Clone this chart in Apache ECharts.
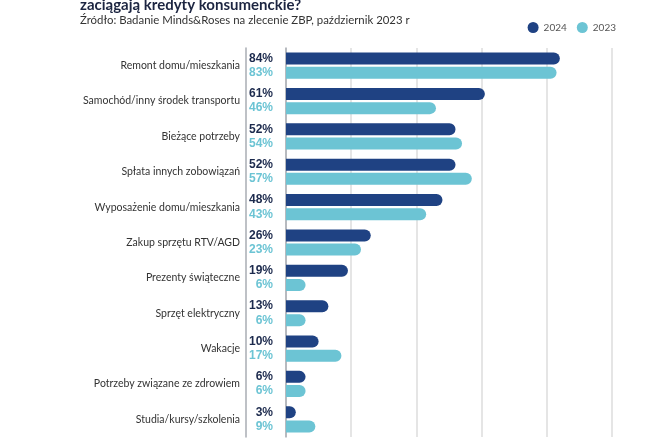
<!DOCTYPE html>
<html><head><meta charset="utf-8">
<script src="https://cdn.jsdelivr.net/npm/echarts@6/dist/echarts.min.js"></script>
<style>html,body{margin:0;padding:0;background:#fff}#c{width:664px;height:442px}</style>
</head><body><div id="c"></div>
<script>
const categories = ["Remont domu/mieszkania","Samochód/inny środek transportu","Bieżące potrzeby","Spłata innych zobowiązań","Wyposażenie domu/mieszkania","Zakup sprzętu RTV/AGD","Prezenty świąteczne","Sprzęt elektryczny","Wakacje","Potrzeby związane ze zdrowiem","Studia/kursy/szkolenia"];
const values2024 = [84,61,52,52,48,26,19,13,10,6,3];
const values2023 = [83,46,54,57,43,23,6,6,17,6,9];
const seriesNames = ["2024","2023"];
const xTicks = [0,20,40,60,80,100];

const navy = '#1f4283', cyan = '#6cc4d4';
const chart = echarts.init(document.getElementById('c'));
const pctLabel = (color) => ({
  show: true, position: 'left', distance: 13,
  formatter: p => p.value + '%',
  fontFamily: '"Liberation Sans",Arial,sans-serif',
  fontWeight: 'bold', fontSize: 12, color: color
});
chart.setOption({
  animation: false,
  title: {
    text: 'zaciągają kredyty konsumenckie?',
    subtext: 'Źródło: Badanie Minds&Roses na zlecenie ZBP, październik 2023 r',
    left: 75, top: -7, itemGap: 2,
    textStyle: {fontFamily: 'Lato', fontWeight: 'bold', fontSize: 15, color: '#1c2541'},
    subtextStyle: {fontFamily: 'Lato', fontSize: 11.4, color: '#333'}
  },
  legend: {
    right: 43, top: 17, itemWidth: 11, itemHeight: 11, itemGap: 10,
    icon: 'circle',
    textStyle: {fontFamily: 'Lato', fontSize: 10, color: '#555'},
    data: seriesNames
  },
  grid: {left: 286, right: 52, top: 48, bottom: 5},
  xAxis: {
    type: 'value', min: xTicks[0], max: xTicks[xTicks.length-1], interval: 20,
    axisLabel: {show: false}, axisLine: {show: false}, axisTick: {show: false},
    splitLine: {lineStyle: {color: '#dcdcdc', width: 1.5}}
  },
  yAxis: [{
    type: 'category', data: categories, inverse: true, offset: 8,
    axisLine: {lineStyle: {color: '#a9acb3', width: 1.5}},
    axisTick: {show: false},
    axisLabel: {margin: 38, fontFamily: 'Lato', fontSize: 10.5, color: '#333'}
  },{
    type: 'category', data: categories, inverse: true, position: 'left', offset: 40,
    axisLine: {show: true, lineStyle: {color: '#a9acb3', width: 1.5}},
    axisTick: {show: false}, axisLabel: {show: false}
  }],
  series: [{
    name: seriesNames[0], type: 'bar', data: values2024, barWidth: 12, barGap: '18%',
    itemStyle: {color: navy, borderRadius: [0,6,6,0]},
    label: pctLabel('#1c2a4d')
  },{
    name: seriesNames[1], type: 'bar', data: values2023, barWidth: 12,
    itemStyle: {color: cyan, borderRadius: [0,6,6,0]},
    label: pctLabel(cyan)
  }]
});
</script></body></html>
